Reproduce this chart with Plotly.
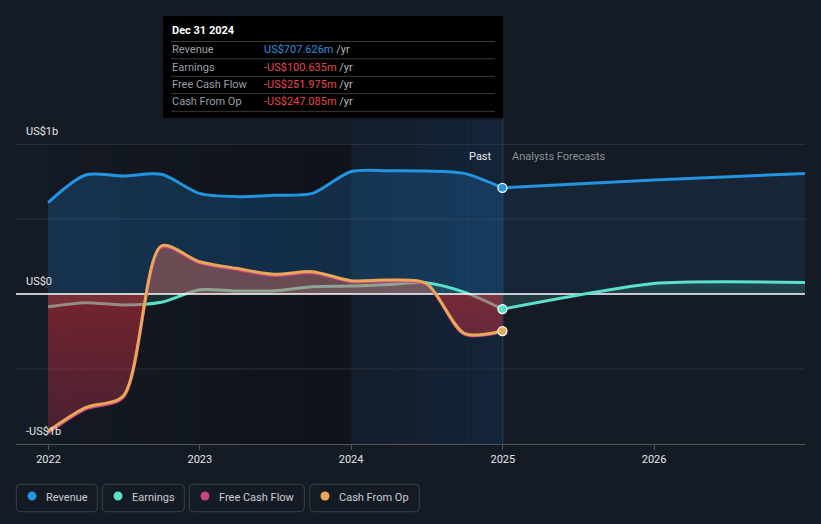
import plotly.graph_objects as go
import pandas as pd

# ---------------- data (values in US$ billions) ----------------
past_dates = ["2021-12-31", "2022-03-31", "2022-06-30", "2022-09-30", "2022-12-31",
              "2023-03-31", "2023-06-30", "2023-09-30", "2023-12-31", "2024-03-31",
              "2024-06-30", "2024-09-30", "2024-12-31"]
revenue_past = [0.609, 0.793, 0.787, 0.798, 0.671, 0.649, 0.658, 0.671, 0.815, 0.822, 0.820, 0.804, 0.707626]
earnings_past = [-0.085, -0.058, -0.073, -0.055, 0.028, 0.020, 0.022, 0.049, 0.053, 0.064, 0.075, 0.012, -0.100635]
fcf_past = [-0.925, -0.768, -0.690, 0.312, 0.207, 0.163, 0.123, 0.141, 0.082, 0.085, 0.065, -0.268, -0.251975]
cfo_past = [-0.915, -0.758, -0.680, 0.320, 0.215, 0.171, 0.131, 0.149, 0.089, 0.093, 0.072, -0.262, -0.247085]

fc_dates = ["2024-12-31", "2025-12-31", "2026-12-31"]
revenue_fc = [0.707626, 0.760, 0.804]
earnings_fc = [-0.100635, 0.070, 0.077]

x_tick_dates = ["2022-01-01", "2023-01-01", "2024-01-01", "2025-01-01", "2026-01-01"]
x_tick_labels = ["2022", "2023", "2024", "2025", "2026"]
y_label_vals = [1, 0, -1]
y_label_text = ["US$1b", "US$0", "-US$1b"]

legend_names = ["Revenue", "Earnings", "Free Cash Flow", "Cash From Op"]
tooltip_title = "Dec 31 2024"
tooltip_labels = ["Revenue", "Earnings", "Free Cash Flow", "Cash From Op"]
tooltip_values = ["US$707.626m", "-US$100.635m", "-US$251.975m", "-US$247.085m"]

# ---------------- style ----------------
BG = "#151b25"
BLUE = "#2394df"
TEAL = "#5ce0c9"
PINK = "#c2457f"
ORANGE = "#e8a857"
NEG = "#e8454a"
FONT = "Roboto"
legend_colors = [BLUE, TEAL, PINK, ORANGE]
tooltip_colors = [BLUE, NEG, NEG, NEG]

W, H = 821, 524
ML, MR, MT, MB = 16, 16, 144, 80
PW = W - ML - MR
PH = H - MT - MB
X_RANGE = ["2021-10-14 12:00", "2026-12-31"]


def px(x):
    return (x - ML) / PW


def py(y):
    return (H - MB - y) / PH


fig = go.Figure()

# revenue
fig.add_trace(go.Scatter(x=past_dates, y=revenue_past, mode="lines",
                         line=dict(color=BLUE, width=3, shape="spline", smoothing=0.8),
                         fill="tozeroy", fillcolor="rgba(33,150,243,0.20)", hoverinfo="skip"))
fig.add_trace(go.Scatter(x=fc_dates, y=revenue_fc, mode="lines",
                         line=dict(color=BLUE, width=3, shape="spline", smoothing=0.8),
                         fill="tozeroy", fillcolor="rgba(33,150,243,0.09)", hoverinfo="skip"))
# earnings
fig.add_trace(go.Scatter(x=past_dates, y=earnings_past, mode="lines",
                         line=dict(color=TEAL, width=3, shape="spline", smoothing=0.8),
                         fill="tozeroy", fillcolor="rgba(92,224,201,0.12)", hoverinfo="skip"))
fig.add_trace(go.Scatter(x=fc_dates, y=earnings_fc, mode="lines",
                         line=dict(color="rgba(0,0,0,0)", width=0, shape="spline", smoothing=0.6),
                         fill="tozeroy", fillcolor="rgba(92,224,201,0.15)", hoverinfo="skip"))
# free cash flow fill
fig.add_trace(go.Scatter(x=past_dates, y=fcf_past, mode="lines",
                         line=dict(color="rgba(0,0,0,0)", width=0, shape="spline", smoothing=0.8),
                         fill="tozeroy",
                         fillgradient=dict(type="vertical", start=-1, stop=0.35,
                                           colorscale=[[0, "rgba(190,50,85,0.30)"],
                                                       [0.735, "rgba(215,48,58,0.50)"],
                                                       [0.745, "rgba(193,103,93,0.50)"],
                                                       [1, "rgba(193,103,93,0.50)"]]),
                         hoverinfo="skip"))
# zero line
fig.add_trace(go.Scatter(x=X_RANGE, y=[0, 0], mode="lines",
                         line=dict(color="#ffffff", width=1.5), hoverinfo="skip"))
# lines on top
fig.add_trace(go.Scatter(x=past_dates, y=fcf_past, mode="lines",
                         line=dict(color=PINK, width=3, shape="spline", smoothing=0.8), hoverinfo="skip"))
fig.add_trace(go.Scatter(x=past_dates, y=cfo_past, mode="lines",
                         line=dict(color=ORANGE, width=3, shape="spline", smoothing=0.8), hoverinfo="skip"))
fig.add_trace(go.Scatter(x=fc_dates, y=earnings_fc, mode="lines",
                         line=dict(color=TEAL, width=3, shape="spline", smoothing=0.6), hoverinfo="skip"))
# end markers
fig.add_trace(go.Scatter(x=[past_dates[-1]] * 3,
                         y=[revenue_past[-1], earnings_past[-1], cfo_past[-1]],
                         mode="markers",
                         marker=dict(size=9, color=[BLUE, TEAL, ORANGE], line=dict(color="#ffffff", width=1.3)),
                         hoverinfo="skip"))

shapes = []
# background gradient bands
n = 24
d_dark = pd.date_range("2022-01-01", "2024-01-01", periods=n + 1)
for i in range(n):
    a = 0.05 + 0.22 * (i + 0.5) / n
    shapes.append(dict(type="rect", xref="x", yref="paper", x0=d_dark[i], x1=d_dark[i + 1],
                       y0=0, y1=1, fillcolor=f"rgba(0,0,0,{a:.3f})", line=dict(width=0), layer="below"))
d_blue = pd.date_range("2024-01-01", "2025-01-01", periods=n + 1)
for i in range(n):
    a = 0.06 + 0.16 * (i + 0.5) / n
    shapes.append(dict(type="rect", xref="x", yref="paper", x0=d_blue[i], x1=d_blue[i + 1],
                       y0=0, y1=py(120), fillcolor=f"rgba(14,75,135,{a:.3f})", line=dict(width=0), layer="below"))
# grid lines
for yv, col in [(1, "#3d424a"), (0.5, "#2a3039"), (-0.5, "#2a3039")]:
    shapes.append(dict(type="line", xref="paper", yref="y", x0=0, x1=1, y0=yv, y1=yv,
                       line=dict(color=col, width=1), layer="below"))
# divider at forecast start
shapes.append(dict(type="line", xref="x", yref="paper", x0="2025-01-01", x1="2025-01-01",
                   y0=0, y1=py(118), line=dict(color="#1f4364", width=1), layer="below"))

# tooltip box
shapes.append(dict(type="rect", xref="paper", yref="paper", x0=px(163), x1=px(503), y0=py(118), y1=py(16),
                   fillcolor="#000000", line=dict(width=0), layer="above"))
for yy in [41.5, 58.8, 76.3, 93.7, 111.3]:
    shapes.append(dict(type="line", xref="paper", yref="paper", x0=px(171), x1=px(495), y0=py(yy), y1=py(yy),
                       line=dict(color="#3a3a3a", width=1), layer="above"))


def rrect(x0, y0, x1, y1, r=4):
    pts = (f"M {px(x0 + r)},{py(y0)} L {px(x1 - r)},{py(y0)} Q {px(x1)},{py(y0)} {px(x1)},{py(y0 + r)} "
           f"L {px(x1)},{py(y1 - r)} Q {px(x1)},{py(y1)} {px(x1 - r)},{py(y1)} "
           f"L {px(x0 + r)},{py(y1)} Q {px(x0)},{py(y1)} {px(x0)},{py(y1 - r)} "
           f"L {px(x0)},{py(y0 + r)} Q {px(x0)},{py(y0)} {px(x0 + r)},{py(y0)} Z")
    return pts


legend_boxes = [(16.3, 97.3), (102.3, 184.3), (189.3, 304.3), (309.7, 419.3)]
legend_dot_x = [32, 118, 205, 325]
legend_text_x = [44.3, 130, 217, 337]
annotations = []
for (bx0, bx1), dx, tx, name, col in zip(legend_boxes, legend_dot_x, legend_text_x, legend_names, legend_colors):
    shapes.append(dict(type="path", xref="paper", yref="paper", path=rrect(bx0, 484.3, bx1, 511.7),
                       line=dict(color="#3b4049", width=1), fillcolor="rgba(0,0,0,0)", layer="above"))
    shapes.append(dict(type="circle", xref="paper", yref="paper", x0=px(dx - 4.5), x1=px(dx + 4.5),
                       y0=py(496 + 4.5), y1=py(496 - 4.5), fillcolor=col, line=dict(width=0), layer="above"))
    annotations.append(dict(xref="paper", yref="paper", x=px(tx), y=py(497), text=name, showarrow=False,
                            xanchor="left", yanchor="middle", font=dict(family=FONT, size=11, color="#c9ccd1")))

# y labels
for yv, txt in zip(y_label_vals, y_label_text):
    annotations.append(dict(xref="paper", yref="y", x=px(24), y=yv, text=txt, showarrow=False,
                            xanchor="left", yanchor="bottom", yshift=4,
                            font=dict(family=FONT, size=11, color="#e3e5e8")))

# past / forecast labels
annotations.append(dict(xref="paper", yref="paper", x=px(494), y=py(156), text="Past", showarrow=False,
                        xanchor="right", yanchor="middle", font=dict(family=FONT, size=11, color="#e8eaed")))
annotations.append(dict(xref="paper", yref="paper", x=px(510), y=py(156), text="Analysts Forecasts",
                        showarrow=False, xanchor="left", yanchor="middle",
                        font=dict(family=FONT, size=11, color="#8b9097")))

# tooltip text
annotations.append(dict(xref="paper", yref="paper", x=px(170), y=py(31), text=f"<b>{tooltip_title}</b>",
                        showarrow=False, xanchor="left", yanchor="middle",
                        font=dict(family=FONT, size=11, color="#ffffff")))
for yy, lab, val, col in zip([49.5, 67, 84.5, 101.7], tooltip_labels, tooltip_values, tooltip_colors):
    annotations.append(dict(xref="paper", yref="paper", x=px(170), y=py(yy), text=lab, showarrow=False,
                            xanchor="left", yanchor="middle", font=dict(family=FONT, size=11, color="#9a9fa6")))
    annotations.append(dict(xref="paper", yref="paper", x=px(262), y=py(yy),
                            text=f"<span style='color:{col}'>{val}</span> /yr", showarrow=False,
                            xanchor="left", yanchor="middle", font=dict(family=FONT, size=11, color="#b4b8bd")))

fig.update_layout(
    width=W, height=H, autosize=False,
    margin=dict(l=ML, r=MR, t=MT, b=MB),
    paper_bgcolor=BG, plot_bgcolor=BG,
    showlegend=False,
    shapes=shapes, annotations=annotations,
    font=dict(family=FONT),
    xaxis=dict(type="date", range=X_RANGE, tickvals=x_tick_dates, ticktext=x_tick_labels,
               showgrid=False, zeroline=False, showline=True, linecolor="#4f545b", linewidth=1,
               ticks="outside", ticklen=5, tickcolor="#4f545b",
               tickfont=dict(family=FONT, size=11, color="#e3e5e8"), automargin=False, fixedrange=True),
    yaxis=dict(range=[-1, 1], showgrid=False, zeroline=False, showticklabels=False, showline=False,
               automargin=False, fixedrange=True),
    hovermode=False,
)

fig.write_html("out.html", config={"displayModeBar": False},
               post_script="document.body.style.margin='0';document.body.style.background='#151b25';")
